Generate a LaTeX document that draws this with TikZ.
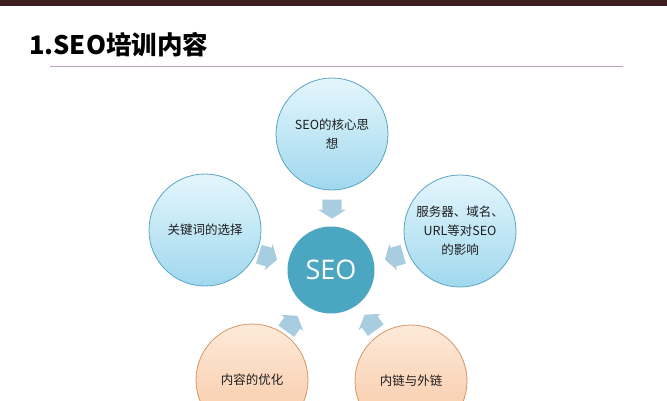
\documentclass[tikz,border=0pt]{standalone}
\usepackage{fontspec}
\setmainfont{Noto Sans CJK SC}
\newfontfamily\seofont{Open Sans}
\usetikzlibrary{shapes.arrows}
\definecolor{barbrown}{RGB}{62,30,30}
\definecolor{rulemauve}{RGB}{190,160,190}
\definecolor{circbluetop}{RGB}{228,246,252}
\definecolor{circbluebot}{RGB}{160,216,238}
\definecolor{circblueline}{RGB}{90,165,195}
\definecolor{circorangetop}{RGB}{253,234,218}
\definecolor{circorangebot}{RGB}{248,198,162}
\definecolor{circorangeline}{RGB}{215,150,100}
\definecolor{seoblue}{RGB}{75,166,193}
\definecolor{arrowblue}{RGB}{168,204,224}
\definecolor{textdark}{RGB}{30,30,30}
\begin{document}
\begin{tikzpicture}[x=1pt,y=-1pt,
  bluecirc/.style={circle, draw=circblueline, line width=0.8pt, top color=circbluetop, bottom color=circbluebot, minimum size=112pt, inner sep=0pt, align=center, text=textdark, font=\fontsize{12.5}{19}\selectfont},
  orangecirc/.style={circle, draw=circorangeline, line width=0.8pt, top color=circorangetop, bottom color=circorangebot, minimum size=112pt, inner sep=0pt, align=center, text=textdark, font=\fontsize{12.5}{19}\selectfont},
  seocirc/.style={circle, fill=seoblue, minimum size=87pt, inner sep=0pt, text=white, font=\seofont\fontsize{27}{30}\selectfont},
  blockarrow/.style={single arrow, fill=arrowblue, draw=none, minimum height=19pt, minimum width=0pt, single arrow head extend=4pt, single arrow tip angle=115, inner sep=0pt}]
\clip (0,0) rectangle (667,400);
\fill[white] (0,0) rectangle (667,400);
\fill[barbrown] (0,0) rectangle (667,6);
\node[anchor=west, inner sep=0pt, text=black, font=\bfseries\fontsize{25.5}{25}\selectfont] (title) at (29,45) {1.SEO培训内容};
\coordinate (l1) at (50,66);
\coordinate (l2) at (623,66);
\draw[rulemauve, line width=0.8pt] (l1) -- (l2);
\node[bluecirc] (top) at (332,134) {SEO的核心思\\想};
\node[bluecirc] (left) at (205,230) {关键词的选择};
\node[bluecirc] (right) at (460,231) {服务器、域名、\\URL等对SEO\\的影响};
\node[seocirc] (seo) at (331,270) {SEO};
\node[orangecirc] (bl) at (252,380) {内容的优化};
\node[orangecirc] (br) at (411,381) {内链与外链};
\node[blockarrow, rotate=-90] (a1) at (332,206) {\rule{0pt}{19pt}};
\node[blockarrow, rotate=-17] (a2) at (265,256) {\rule{0pt}{19pt}};
\node[blockarrow, rotate=196] (a3) at (397,256) {\rule{0pt}{19pt}};
\node[blockarrow, rotate=54] (a4) at (290,326) {\rule{0pt}{19pt}};
\node[blockarrow, rotate=126] (a5) at (372,325) {\rule{0pt}{19pt}};
\end{tikzpicture}
\end{document}
